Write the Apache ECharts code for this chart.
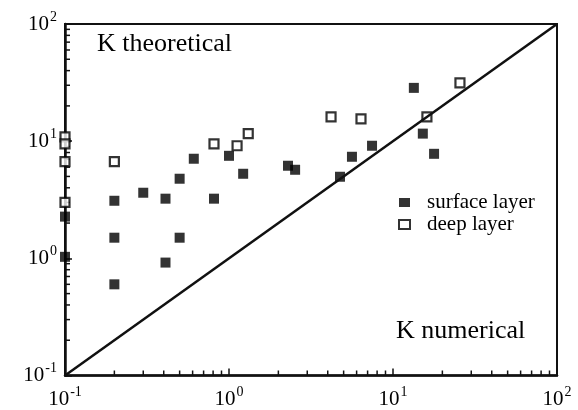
<!DOCTYPE html>
<html>
<head>
<meta charset="utf-8">
<script src="https://cdn.jsdelivr.net/npm/echarts@6/dist/echarts.min.js"></script>
<style>
  html,body{margin:0;padding:0;background:#fff;}
  #chart{width:578px;height:410px;}
</style>
</head>
<body>
<div id="chart"></div>
<script>
// surface layer (filled squares): [K numerical, K theoretical]
var surfaceLayer = [
  [0.1, 2.27], [0.1, 1.03], [0.2, 0.6], [0.2, 1.5], [0.2, 3.1],
  [0.3, 3.63], [0.41, 3.23], [0.41, 0.92], [0.5, 1.5], [0.5, 4.78],
  [0.61, 7.08], [0.81, 3.23], [1.0, 7.5], [1.22, 5.27], [2.29, 6.17],
  [2.53, 5.7], [4.75, 4.97], [5.62, 7.36], [7.45, 9.14], [13.4, 28.5],
  [15.2, 11.6], [17.8, 7.8]
];
// deep layer (open squares)
var deepLayer = [
  [0.1, 10.9], [0.1, 9.5], [0.1, 6.7], [0.1, 3.0], [0.2, 6.7],
  [0.81, 9.5], [1.12, 9.14], [1.31, 11.6], [4.19, 16.1], [6.38, 15.5],
  [16.1, 16.1], [25.6, 31.5]
];
var diagonal = [[0.1, 0.1], [100, 100]];
var minorTicks = [0.2, 0.3, 0.4, 0.5, 0.6, 0.7, 0.8, 0.9,
  2, 3, 4, 5, 6, 7, 8, 9, 20, 30, 40, 50, 60, 70, 80, 90];

var serif = '"Liberation Serif", "DejaVu Serif", serif';
var ink = '#000';

function powLabel(v) {
  var e = Math.round(Math.log10(v));
  return '{b|10}{s|' + e + '}';
}
var labelRich = {
  b: {fontSize: 21, fontFamily: serif, color: ink},
  s: {fontSize: 14, fontFamily: serif, color: ink, padding: [0, 0, 14, 1]}
};

var chart = echarts.init(document.getElementById('chart'));
var option = {
  animation: false,
  backgroundColor: '#fff',
  grid: {left: 65, top: 24, right: 21, bottom: 34, show: true,
    borderColor: '#111', borderWidth: 2, backgroundColor: 'transparent'},
  xAxis: {
    type: 'log', min: 0.1, max: 100, logBase: 10,
    axisLine: {lineStyle: {color: '#111', width: 2.5}},
    axisTick: {inside: true, length: 7, lineStyle: {color: '#111', width: 1.5}},
    splitLine: {show: false},
    axisLabel: {formatter: powLabel, rich: labelRich, margin: 10}
  },
  yAxis: {
    type: 'log', min: 0.1, max: 100, logBase: 10,
    axisLine: {lineStyle: {color: '#111', width: 2.5}},
    axisTick: {inside: true, length: 7, lineStyle: {color: '#111', width: 1.5}},
    splitLine: {show: false},
    axisLabel: {formatter: powLabel, rich: labelRich, margin: 8}
  },
  legend: {
    orient: 'vertical', left: 393, top: 187,
    itemWidth: 11, itemHeight: 9, itemGap: 1,
    textStyle: {fontFamily: serif, fontSize: 21, color: ink, lineHeight: 20,
      padding: [0, 0, 0, 12]},
    data: ['surface layer', 'deep layer']
  },
  graphic: [
    {type: 'text', left: 97, top: 31,
      style: {text: 'K theoretical', font: '26px ' + serif, fill: ink}},
    {type: 'text', left: 396, top: 318,
      style: {text: 'K numerical', font: '26px ' + serif, fill: ink}}
  ],
  series: [
    {
      type: 'custom', silent: true, clip: false,
      data: minorTicks,
      renderItem: function (params, api) {
        var v = api.value(0);
        var px = api.coord([v, 0.1]);
        var py = api.coord([0.1, v]);
        return {type: 'group', children: [
          {type: 'line', shape: {x1: px[0], y1: px[1], x2: px[0], y2: px[1] - 5},
            style: {stroke: '#111', lineWidth: 1.5}},
          {type: 'line', shape: {x1: py[0], y1: py[1], x2: py[0] + 5, y2: py[1]},
            style: {stroke: '#111', lineWidth: 1.5}}
        ]};
      },
      encode: {x: 0}
    },
    {
      type: 'line', data: diagonal, symbol: 'none',
      lineStyle: {color: '#111', width: 2.5}
    },
    {
      name: 'surface layer', type: 'scatter', data: surfaceLayer,
      symbol: 'rect', symbolSize: 10,
      itemStyle: {color: ink}
    },
    {
      name: 'deep layer', type: 'scatter', data: deepLayer,
      symbol: 'rect', symbolSize: 9,
      itemStyle: {color: '#fff', borderColor: ink, borderWidth: 2.2}
    }
  ]
};
chart.setOption(option);
</script>
</body>
</html>
